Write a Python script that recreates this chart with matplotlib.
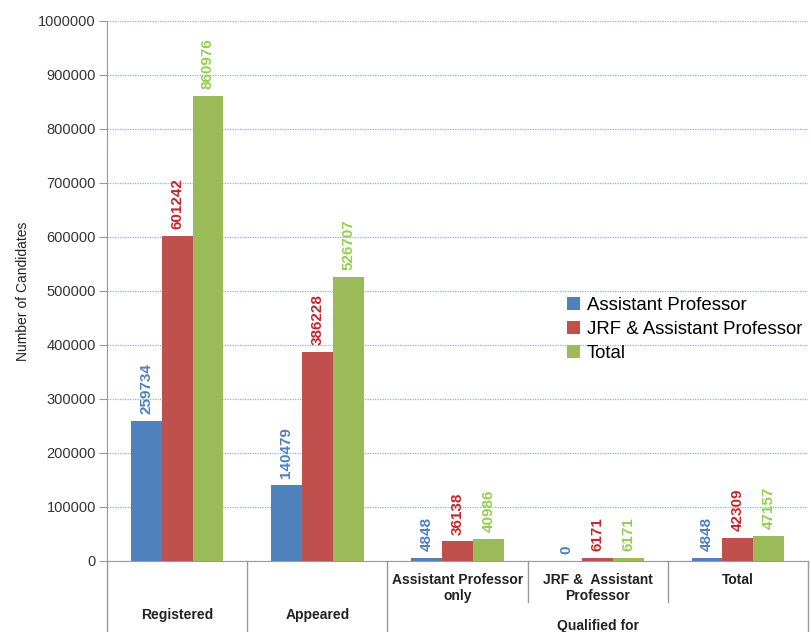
import matplotlib.pyplot as plt
import matplotlib.transforms as mtransforms
import numpy as np

plt.rcParams["font.family"] = ["Liberation Sans", "DejaVu Sans"]

# data
groups = ["Registered", "Appeared", "Assistant Professor\nonly", "JRF &  Assistant\nProfessor", "Total"]
series_names = ["Assistant Professor", "JRF & Assistant Professor", "Total"]
asst_prof = [259734, 140479, 4848, 0, 4848]
jrf_asst = [601242, 386228, 36138, 6171, 42309]
total = [860976, 526707, 40986, 6171, 47157]
yticks = np.arange(0, 1000001, 100000)

bar_colors = ["#4F81BD", "#C0504D", "#9BBB59"]
label_colors = ["#4F81BD", "#C0272D", "#92D050"]

W, H = 811, 632
fig = plt.figure(figsize=(W / 100, H / 100), dpi=100)
ax = fig.add_axes([107 / W, 1 - 561 / H, 701 / W, 540 / H])

x = np.arange(len(groups))
width = 0.22
for i, (vals, c, lc, name) in enumerate(zip([asst_prof, jrf_asst, total], bar_colors, label_colors, series_names)):
    xs = x + (i - 1) * width
    ax.bar(xs, vals, width=width, color=c, label=name, zorder=3)
    for xi, v in zip(xs, vals):
        ax.annotate(f"{v}", (xi, v), xytext=(0, 5), textcoords="offset points",
                    rotation=90, ha="center", va="bottom", color=lc,
                    fontsize=11, fontweight="bold", family=["Liberation Sans Narrow", "Liberation Sans"])

ax.set_xlim(-0.5, 4.5)
ax.set_ylim(0, 1000000)
ax.set_yticks(yticks)
ax.set_yticklabels([str(v) for v in yticks])
ax.yaxis.grid(True, linestyle=(0, (1, 1)), color="#8FB0D8", linewidth=0.9, zorder=0)
ax.set_xticks([])
ax.tick_params(axis="y", length=6, color="#999999", labelsize=10.5, labelcolor="#333333", pad=2)
for s in ["top", "right"]:
    ax.spines[s].set_visible(False)
ax.spines["left"].set_color("#999999")
ax.spines["bottom"].set_color("#999999")
ax.set_ylabel("Number of Candidates", fontsize=10, color="#222222", labelpad=6)

# multi-level category axis
trans = mtransforms.blended_transform_factory(ax.transData, fig.transFigure)
def fy(py):
    return 1 - py / H

for xb in [-0.5, 0.5, 1.5, 4.5]:
    ax.plot([xb, xb], [fy(561), fy(632)], color="#999999", lw=1, transform=trans, clip_on=False)
for xb in [2.5, 3.5]:
    ax.plot([xb, xb], [fy(561), fy(602)], color="#999999", lw=1, transform=trans, clip_on=False)

for xi, lab in zip(x[:2], groups[:2]):
    ax.text(xi, fy(615), lab, transform=trans, ha="center", va="center", fontsize=10, fontweight="bold", color="#222222")
for xi, lab in zip(x[2:], groups[2:]):
    ax.text(xi, fy(573), lab, transform=trans, ha="center", va="top", fontsize=10, fontweight="bold",
            color="#222222", linespacing=1.2)
ax.text(3, fy(626), "Qualified for", transform=trans, ha="center", va="center", fontsize=10, fontweight="bold", color="#222222")

fig.legend(loc="upper left", bbox_to_anchor=(560 / W, 1 - 290 / H), frameon=False, fontsize=13.4,
           handlelength=0.7, handleheight=0.7, handletextpad=0.35, labelspacing=0.35, borderaxespad=0)

fig.savefig("out.png", dpi=100)
